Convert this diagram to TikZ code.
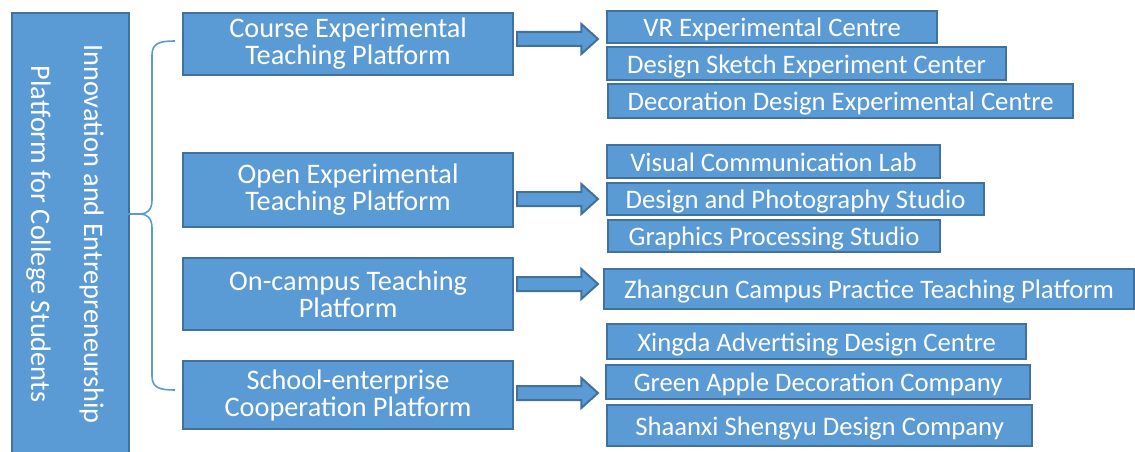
\documentclass[tikz,border=0pt]{standalone}
\usepackage{fontspec}
\setmainfont{Carlito}
\usetikzlibrary{shapes.arrows}
\definecolor{boxfill}{RGB}{91,155,213}
\definecolor{boxline}{RGB}{65,113,156}
\begin{document}
\begin{tikzpicture}[x=1pt,y=-1pt,
  box/.style={draw=boxline, fill=boxfill, line width=2.2pt, text=white,
    inner sep=0pt, anchor=north west, align=center},
  midbox/.style={box, font=\fontsize{28.3}{27}\selectfont, minimum width=330pt},
  rbox/.style={box, font=\fontsize{26.7}{30}\selectfont, text height=21pt, text depth=2pt},
  barrow/.style={single arrow, draw=boxline, fill=boxfill, line width=2pt,
    inner sep=6pt, minimum width=0pt, minimum height=81pt,
    single arrow head extend=8pt, single arrow tip angle=84, anchor=west},
  brace/.style={draw=boxfill, line width=1.6pt}
]
\useasboundingbox (0,0) rectangle (1135,452);

% left main box
\node[box, minimum width=117pt, minimum height=460pt] (L) at (11,12) {};
\node[text=white, rotate=-90, align=center, inner sep=0pt,
  font=\fontsize{28.3}{53}\selectfont] (Lt) at (65,234)
  {Innovation and Entrepreneurship\\Platform for College Students};

% second-level platforms
\node[midbox, minimum height=62pt] (a1) at (182,12) {Course Experimental\\Teaching Platform};
\node[midbox, minimum height=74pt] (a2) at (182,152) {Open Experimental\\Teaching Platform};
\node[midbox, minimum height=72pt] (a3) at (182,257) {On-campus Teaching\\Platform};
\node[midbox, minimum height=68pt] (a4) at (182,360) {School-enterprise\\Cooperation Platform};

% brace from main box to platforms
\coordinate (bt) at (175,41);
\coordinate (bb) at (175,390);
\coordinate (tip) at (128,214);
\draw[brace] (bt) .. controls (160,41) and (152,43) .. (152,55) -- (152,200)
  .. controls (152,210) and (147,214) .. (140,214) -- (tip);
\draw[brace] (tip) -- (140,214) .. controls (147,214) and (152,218) .. (152,228)
  -- (152,376) .. controls (152,388) and (160,390) .. (bb);

% block arrows
\node[barrow] (ar1) at (516,39) {};
\node[barrow] (ar2) at (516,199) {};
\node[barrow] (ar3) at (516,284) {};
\node[barrow] (ar4) at (516,393) {};

% right-hand boxes
\node[rbox, minimum width=330pt, minimum height=32pt] (b1) at (606,10) {VR Experimental Centre};
\node[rbox, minimum width=399pt, minimum height=33pt] (b2) at (606,46) {Design Sketch Experiment Center};
\node[rbox, minimum width=465pt, minimum height=34pt] (b3) at (607,83) {Decoration Design Experimental Centre};
\node[rbox, minimum width=333pt, minimum height=33pt] (b4) at (606,144) {Visual Communication Lab};
\node[rbox, minimum width=377pt, minimum height=32pt] (b5) at (606,182) {Design and Photography Studio};
\node[rbox, minimum width=332pt, minimum height=32pt] (b6) at (607,219) {Graphics Processing Studio};
\node[rbox, minimum width=530pt, minimum height=40pt] (b7) at (603,268) {Zhangcun Campus Practice Teaching Platform};
\node[rbox, minimum width=419pt, minimum height=35pt] (b8) at (606,323) {Xingda Advertising Design Centre};
\node[rbox, minimum width=424pt, minimum height=34pt] (b9) at (605,364) {Green Apple Decoration Company};
\node[rbox, minimum width=425pt, minimum height=41pt] (b10) at (606,404) {Shaanxi Shengyu Design Company};
\end{tikzpicture}
\end{document}
